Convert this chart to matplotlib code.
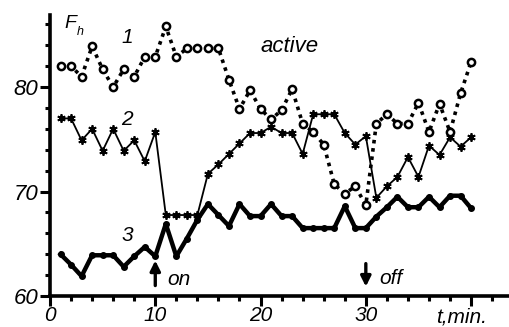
import numpy as np
import matplotlib
matplotlib.use("Agg")
import matplotlib.pyplot as plt

# time axis, minutes
t = np.arange(1, 41)

# curve 1: dotted, open circles
f1 = [82.0, 82.0, 81.0, 83.9, 81.7, 80.0, 81.7, 81.0, 82.9, 82.9,
      85.8, 82.9, 83.7, 83.7, 83.7, 83.7, 80.7, 77.9, 79.7, 77.9,
      76.9, 77.8, 79.8, 76.5, 75.7, 74.5, 70.7, 69.8, 70.5, 68.7,
      76.5, 77.4, 76.5, 76.5, 78.5, 75.7, 78.4, 75.7, 79.4, 82.4]

# curve 2: thin line, star markers
f2 = [77.0, 77.0, 74.9, 76.0, 73.9, 76.0, 73.9, 74.9, 72.9, 75.7,
      67.75, 67.75, 67.75, 67.75, 71.7, 72.6, 73.6, 74.6, 75.6, 75.6,
      76.2, 75.6, 75.6, 73.6, 77.4, 77.4, 77.4, 75.6, 74.5, 75.3,
      69.4, 70.5, 71.4, 73.3, 71.4, 74.4, 73.5, 75.2, 74.3, 75.2]

# curve 3: thick line, dots
f3 = [64.0, 63.0, 61.9, 63.9, 63.9, 63.9, 62.8, 63.8, 64.7, 63.8,
      66.9, 63.8, 65.5, 67.3, 68.8, 67.75, 66.7, 68.8, 67.65, 67.65,
      68.8, 67.65, 67.65, 66.5, 66.5, 66.5, 66.5, 68.6, 66.5, 66.5,
      67.6, 68.5, 69.5, 68.5, 68.5, 69.5, 68.5, 69.6, 69.6, 68.4]

xticks = [0, 10, 20, 30]
yticks = [60, 70, 80]

plt.rcParams['font.family'] = ['Liberation Sans', 'DejaVu Sans']

fig = plt.figure(figsize=(5.09, 3.27), dpi=100)
ax = fig.add_axes([50 / 509, 31 / 327, 459 / 509, 281 / 327])

ax.plot(t, f1, color='black', ls=(0, (1, 1.3)), lw=2.6, marker='o', ms=5.2,
        mfc='white', mec='black', mew=1.8, zorder=3)
ax.plot(t, f2, color='black', lw=1.3, marker=(6, 2, 0), ms=6, mew=1.3, zorder=2)
ax.plot(t, f3, color='black', lw=3.2, marker='o', ms=4, zorder=2)

ax.set_xlim(0, 43.6)
ax.set_ylim(60, 86.9)
ax.set_xticks(xticks + [40])
ax.set_xticklabels([str(v) for v in xticks] + [''])
ax.set_xticks(np.arange(0, 43, 2), minor=True)
ax.set_yticks(yticks)
ax.set_yticks(np.arange(60, 87, 2), minor=True)

for lab in ax.get_xticklabels():
    lab.set_fontstyle('italic')
    lab.set_fontsize(15)
for lab in ax.get_yticklabels():
    lab.set_fontstyle('italic')
    lab.set_fontsize(16)

ax.tick_params(which='major', direction='out', length=7, width=2.2, pad=1.5)
ax.tick_params(axis='x', which='major', pad=0.5)
ax.tick_params(which='minor', direction='out', length=3.5, width=2.2)
for s in ['top', 'right']:
    ax.spines[s].set_visible(False)
for s in ['left', 'bottom']:
    ax.spines[s].set_linewidth(2.6)

# annotations
ax.text(1.4, 86.1, 'F', fontsize=14, style='italic', ha='left', va='center')
ax.text(2.5, 85.3, 'h', fontsize=9, style='italic', ha='left', va='center')
ax.text(7.3, 84.7, '1', fontsize=15, style='italic', ha='center', va='center')
ax.text(7.3, 76.9, '2', fontsize=15, style='italic', ha='center', va='center')
ax.text(7.3, 65.8, '3', fontsize=15, style='italic', ha='center', va='center')
ax.text(22.8, 83.9, 'active', fontsize=16, style='italic', ha='center', va='center')

ax.annotate('', xy=(10, 63.4), xytext=(10, 61.0),
            arrowprops=dict(arrowstyle='-|>', color='black', lw=2.4,
                            mutation_scale=15, shrinkA=0, shrinkB=0))
ax.text(11.1, 61.6, 'on', fontsize=15, style='italic', ha='left', va='center')
ax.annotate('', xy=(30, 60.9), xytext=(30, 63.1),
            arrowprops=dict(arrowstyle='-|>', color='black', lw=2.4,
                            mutation_scale=15, shrinkA=0, shrinkB=0))
ax.text(31.3, 61.7, 'off', fontsize=15, style='italic', ha='left', va='center')
ax.text(39.1, 58.0, 't,min.', fontsize=15, style='italic', ha='center', va='center',
        clip_on=False)

fig.savefig('out.png', dpi=100)
